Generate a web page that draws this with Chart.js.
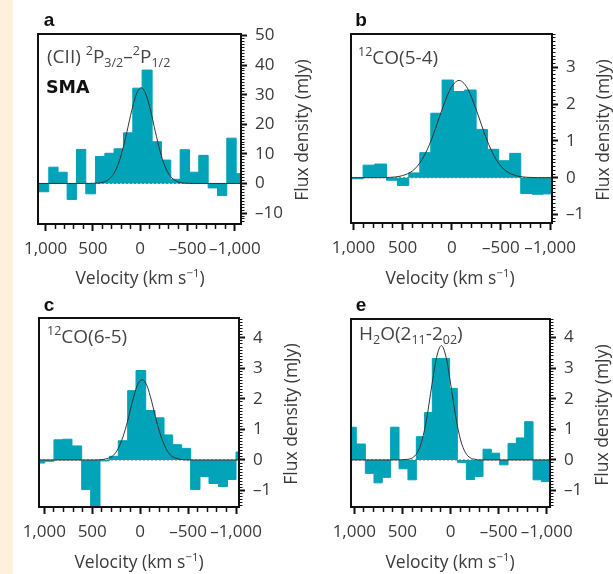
<!DOCTYPE html>
<html>
<head>
<meta charset="utf-8">
<script src="https://cdn.jsdelivr.net/npm/chart.js@4.4.0/dist/chart.umd.min.js"></script>
<style>
  html, body { margin: 0; padding: 0; background: #fff; }
  #page { position: relative; width: 613px; height: 574px; overflow: hidden; background: #fff;
          font-family: "Open Sans", sans-serif; color: #3a3a3a; }
  .strip { position: absolute; left: 0; top: 0; width: 13px; height: 574px; background: #fdf0dc; }
  canvas { position: absolute; }
  .letter { position: absolute; font-family: "Liberation Sans", Arial, sans-serif; font-weight: bold;
            font-size: 19px; color: #111; line-height: 1; transform: translate(-50%, -50%); }
  .ytitle { position: absolute; font-size: 17.5px; line-height: 1; white-space: nowrap;
            transform: translate(-50%, -50%) rotate(-90deg); }
  .xtitle { position: absolute; font-size: 17.5px; line-height: 1; white-space: nowrap;
            transform: translate(-50%, -50%); }
  .xtitle sup { font-size: 0.65em; line-height: 0; }
  .tag { position: absolute; font-size: 19px; line-height: 1; white-space: nowrap; color: #444;
         transform: translateY(-50%); }
  .tag sup, .tag sub { font-size: 0.66em; line-height: 0; }
  .sma { position: absolute; font-family: "DejaVu Sans", sans-serif; font-weight: bold; font-size: 17.5px;
         color: #111; line-height: 1; transform: translateY(-50%); }
</style>
</head>
<body>
<div id="page">
  <div class="strip"></div>

  <canvas id="chartA" width="293" height="260" style="left:8px;top:9px"></canvas>
  <canvas id="chartB" width="291" height="259" style="left:321px;top:9px"></canvas>
  <canvas id="chartC" width="290" height="259" style="left:9px;top:293px"></canvas>
  <canvas id="chartE" width="289" height="258" style="left:321px;top:294px"></canvas>

  <div class="letter" style="left:49px;top:19px">a</div>
  <div class="letter" style="left:361px;top:19px">b</div>
  <div class="letter" style="left:49px;top:304px">c</div>
  <div class="letter" style="left:361px;top:304px">e</div>

  <div class="tag" style="left:47px;top:56px">(CII) <sup>2</sup>P<sub>3/2</sub>–<sup>2</sup>P<sub>1/2</sub></div>
  <div class="sma" style="left:46px;top:88px">SMA</div>
  <div class="tag" style="left:358px;top:57px"><sup>12</sup>CO(5-4)</div>
  <div class="tag" style="left:47px;top:336px"><sup>12</sup>CO(6-5)</div>
  <div class="tag" style="left:359px;top:333px">H<sub>2</sub>O(2<sub>11</sub>-2<sub>02</sub>)</div>

  <div class="ytitle" style="left:302px;top:130px">Flux density (mJy)</div>
  <div class="ytitle" style="left:603px;top:130px">Flux density (mJy)</div>
  <div class="ytitle" style="left:291px;top:414px">Flux density (mJy)</div>
  <div class="ytitle" style="left:602px;top:415px">Flux density (mJy)</div>

  <div class="xtitle" style="left:140px;top:278px">Velocity (km s<sup>−1</sup>)</div>
  <div class="xtitle" style="left:450px;top:278px">Velocity (km s<sup>−1</sup>)</div>
  <div class="xtitle" style="left:139px;top:562px">Velocity (km s<sup>−1</sup>)</div>
  <div class="xtitle" style="left:450px;top:562px">Velocity (km s<sup>−1</sup>)</div>
</div>

<script>
// (a) [CII] with SMA: bin edges (km/s) and flux per bin (mJy)
const edgesA = [1080, 966, 868, 772, 674, 575, 473, 374, 276, 177, 78, -20, -126, -225, -323, -422, -521, -619, -718, -817, -915, -1014, -1065];
const fluxA = [-2.8, 5.5, 3.8, -5.4, 11.5, -3.5, 9.1, 10.2, 11.7, 17.1, 32.2, 38.3, 14.1, 7.9, 1.4, 11.4, 3.8, 9.5, -1.5, -4.1, 15.3, 3.3];
const fitVelA = [1080, 590, 490, 440, 390, 340, 290, 240, 190, 140, 90, 40, -10, -60, -110, -160, -210, -260, -310, -360, -410, -460, -510, -610, -1065];
const fitFluxA = [0, 0, 0.04, 0.14, 0.43, 1.2, 2.8, 5.9, 10.9, 17.5, 24.6, 30.2, 32.3, 30.2, 24.6, 17.5, 10.9, 5.9, 2.8, 1.2, 0.43, 0.14, 0.04, 0, 0];

// (b) 12CO(5-4)
const edgesB = [1025, 902, 783, 664, 553, 437, 325, 213, 98, -17, -132, -248, -363, -478, -590, -702, -817, -929, -1020];
const fluxB = [-0.03, 0.34, 0.37, -0.07, -0.21, 0.13, 0.68, 1.75, 2.65, 2.34, 2.38, 1.31, 0.77, 0.46, 0.66, -0.43, -0.45, -0.44];
const fitVelB = [1025, 725, 625, 525, 425, 375, 325, 275, 225, 175, 125, 75, 25, -25, -75, -125, -175, -225, -275, -325, -375, -425, -475, -525, -575, -675, -775, -875, -1020];
const fitFluxB = [0, 0, 0.01, 0.04, 0.14, 0.24, 0.40, 0.62, 0.91, 1.26, 1.65, 2.02, 2.35, 2.56, 2.64, 2.56, 2.35, 2.02, 1.65, 1.26, 0.91, 0.62, 0.40, 0.24, 0.14, 0.04, 0.01, 0, 0];

// (c) 12CO(6-5)
const edgesC = [1055, 996, 899, 808, 711, 610, 516, 419, 322, 228, 130, 43, -58, -155, -249, -339, -433, -527, -624, -718, -816, -910, -1000, -1031];
const fluxC = [-0.1, -0.04, 0.66, 0.68, 0.46, -0.97, -1.6, -0.03, 0.12, 0.63, 2.27, 2.93, 1.62, 1.38, 0.82, 0.5, 0.38, -0.97, -0.54, -0.77, -0.87, -0.64, 0.26];
const fitVelC = [1055, 580, 480, 380, 330, 280, 230, 180, 130, 80, 30, -20, -70, -120, -170, -220, -270, -320, -370, -420, -520, -1031];
const fitFluxC = [0, 0, 0, 0.02, 0.06, 0.15, 0.37, 0.75, 1.28, 1.92, 2.44, 2.63, 2.44, 1.92, 1.28, 0.75, 0.37, 0.15, 0.06, 0.02, 0, 0];

// (e) H2O(2_11-2_02)
const edgesE = [1034, 979, 885, 795, 709, 622, 535, 442, 355, 269, 189, 95, 9, -71, -165, -251, -338, -424, -511, -598, -684, -771, -858, -944, -1034];
const fluxE = [1.07, 0.52, -0.44, -0.75, -0.57, 1.07, -0.29, -0.65, 0.76, 1.55, 3.32, 3.32, 2.34, -0.08, -0.64, -0.54, 0.35, 0.22, -0.16, 0.54, 0.72, 1.25, -0.65, -0.71];
const fitVelE = [1034, 595, 445, 395, 345, 295, 245, 195, 145, 95, 45, -5, -55, -105, -155, -205, -255, -305, -1034];
const fitFluxE = [0, 0, 0.02, 0.07, 0.24, 0.65, 1.40, 2.42, 3.35, 3.74, 3.35, 2.42, 1.40, 0.65, 0.24, 0.07, 0.02, 0, 0];

// axis limits
const xLimA = [-1065, 1080], yLimA = [-13.7, 50.5];
const xLimB = [-1020, 1025], yLimB = [-1.23, 3.9];
const xLimC = [-1031, 1055], yLimC = [-1.54, 4.65];
const xLimE = [-1034, 1034], yLimE = [-1.54, 4.61];

const TEAL = '#00a3b7';
const INK = '#3a3a3a';

Chart.defaults.font.family = '"Open Sans", sans-serif';
Chart.defaults.color = INK;

const framePlugin = {
  id: 'frame',
  afterDatasetsDraw(chart) {
    const a = chart.chartArea, ctx = chart.ctx;
    ctx.save();
    ctx.strokeStyle = '#111';
    ctx.lineWidth = 2;
    ctx.strokeRect(a.left, a.top, a.right - a.left, a.bottom - a.top);
    ctx.restore();
  }
};

function onStep(v, step) {
  return Math.abs(v / step - Math.round(v / step)) < 1e-6;
}

function dash(v) {
  return v < 0 ? '–' + Math.abs(v) : String(v);
}

function fmtX(v) {
  if (!onStep(v, 500)) return '';
  const r = Math.round(v);
  if (Math.abs(r) === 1000) return (r < 0 ? '–' : '') + '1,000';
  return dash(r);
}

function makePanel(id, edges, flux, fitVel, fitFlux, xLim, yLim, yMajor, yMinor) {
  const hist = edges.map((v, i) => ({ x: v, y: flux[Math.min(i, flux.length - 1)] }));
  const fit = fitVel.map((v, i) => ({ x: v, y: fitFlux[i] }));
  const zero = [{ x: xLim[1], y: 0 }, { x: xLim[0], y: 0 }];
  const xMaj = c => c.tick && onStep(c.tick.value, 500);
  const yMaj = c => c.tick && onStep(c.tick.value, yMajor);

  return new Chart(document.getElementById(id), {
    type: 'line',
    data: {
      datasets: [
        { data: fit, borderColor: '#333', borderWidth: 1, pointRadius: 0,
          cubicInterpolationMode: 'monotone', fill: false, order: 0 },
        { data: zero, borderColor: '#777', borderWidth: 1, borderDash: [2, 2], pointRadius: 0,
          fill: false, order: 1 },
        { data: hist, stepped: true, borderColor: TEAL, borderWidth: 1, backgroundColor: TEAL,
          fill: { target: 'origin', above: TEAL, below: TEAL }, pointRadius: 0, order: 2 }
      ]
    },
    options: {
      responsive: false,
      animation: false,
      devicePixelRatio: 1,
      layout: { padding: { left: 30, top: 25, right: 0, bottom: 0 } },
      plugins: { legend: { display: false }, tooltip: { enabled: false } },
      scales: {
        x: {
          type: 'linear', position: 'bottom', reverse: true, min: xLim[0], max: xLim[1],
          afterFit: s => { s.height = 45; },
          ticks: { stepSize: 100, includeBounds: false, autoSkip: false, maxRotation: 0, minRotation: 0,
                   padding: 8, color: INK, font: { size: 17 }, callback: fmtX },
          grid: { drawOnChartArea: false, tickLength: 7, color: '#111',
                  tickWidth: c => xMaj(c) ? 2 : 1.5,
                  tickBorderDash: c => xMaj(c) ? [] : [5, 30] },
          border: { display: false }
        },
        y: {
          type: 'linear', position: 'right', min: yLim[0], max: yLim[1],
          afterFit: s => { s.width = 60; },
          ticks: { stepSize: yMinor, includeBounds: false, autoSkip: false, padding: 8,
                   color: INK, font: { size: 17 },
                   callback: v => onStep(v, yMajor) ? dash(Math.round(v)) : '' },
          grid: { drawOnChartArea: false, tickLength: 6, color: '#111',
                  tickWidth: c => yMaj(c) ? 2 : 1,
                  tickBorderDash: c => yMaj(c) ? [] : [3.5, 30] },
          border: { display: false }
        }
      }
    },
    plugins: [framePlugin]
  });
}

makePanel('chartA', edgesA, fluxA, fitVelA, fitFluxA, xLimA, yLimA, 10, 1);
makePanel('chartB', edgesB, fluxB, fitVelB, fitFluxB, xLimB, yLimB, 1, 0.1);
makePanel('chartC', edgesC, fluxC, fitVelC, fitFluxC, xLimC, yLimC, 1, 0.1);
makePanel('chartE', edgesE, fluxE, fitVelE, fitFluxE, xLimE, yLimE, 1, 0.1);
</script>
</body>
</html>
